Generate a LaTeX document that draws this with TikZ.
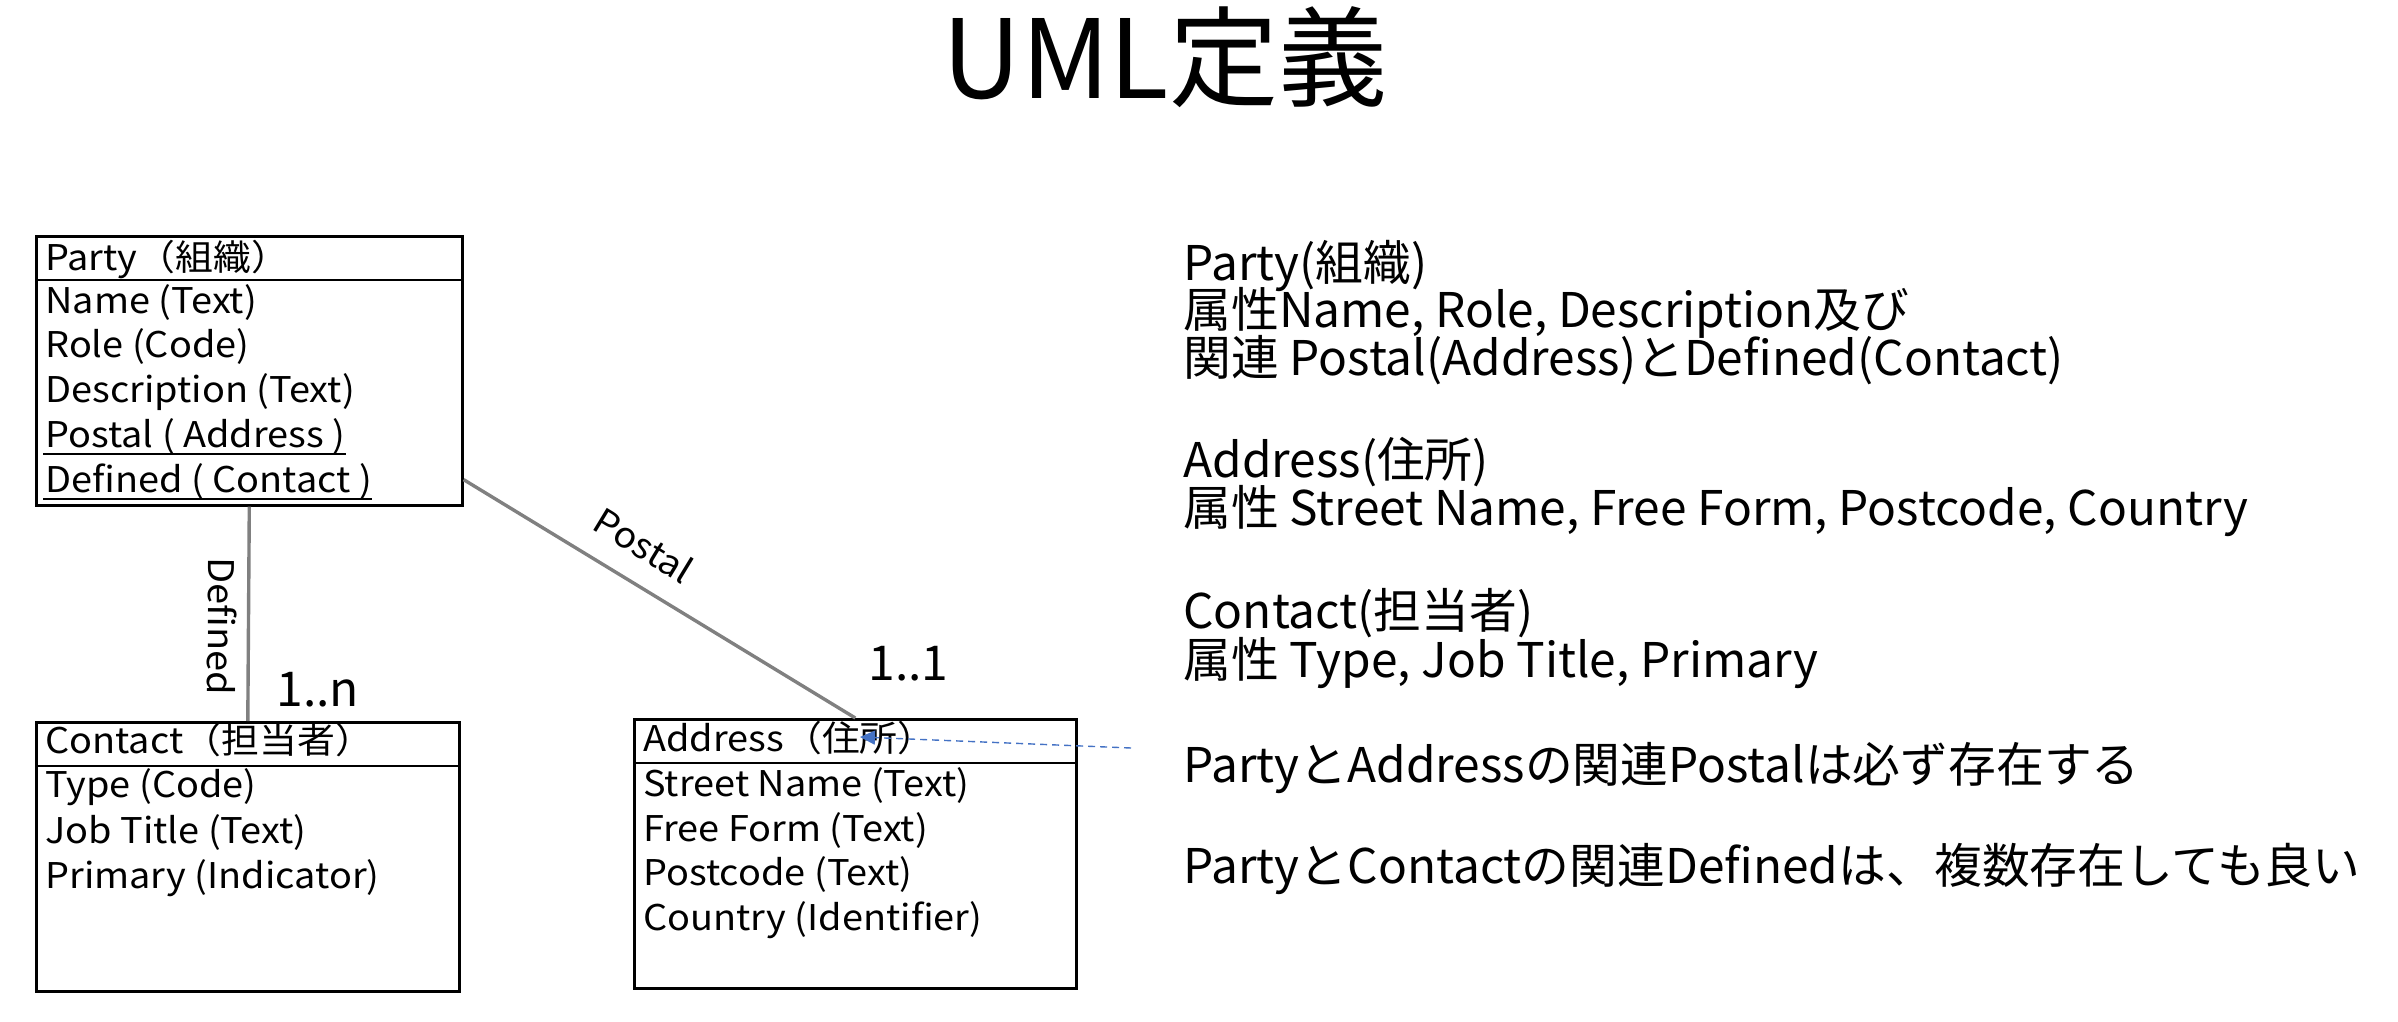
\documentclass[tikz,border=0pt]{standalone}
\usepackage{fontspec}
\setmainfont{Noto Sans CJK JP}
\newfontfamily\boxfam[FakeStretch=1.07]{Noto Sans CJK JP}
\usetikzlibrary{arrows.meta}
\newcommand{\boxfont}{\boxfam\fontsize{17.7pt}{22pt}\selectfont}
\newcommand{\notefont}{\fontsize{23.9pt}{24pt}\selectfont}
\newcommand{\multfont}{\fontsize{24pt}{26pt}\selectfont}
\newcommand{\titlefont}{\fontsize{54.6pt}{60pt}\selectfont}
\definecolor{conngray}{HTML}{808080}
\definecolor{noteblue}{HTML}{4472C4}
\tikzset{
  umlbox/.style={draw=black, line width=1.3pt, rectangle, inner sep=0pt, anchor=north west},
  sepline/.style={draw=black, line width=1.3pt},
  rowtext/.style={anchor=base west, inner sep=0pt, font=\boxfont},
  ulinestyle/.style={draw=black, line width=1.1pt},
  conn/.style={draw=conngray, line width=1.7pt},
  connlabel/.style={inner sep=0pt, font=\boxfont, sloped, allow upside down},
  notetext/.style={anchor=base west, inner sep=0pt, font=\notefont},
  mult/.style={anchor=base west, inner sep=0pt, font=\multfont},
  notelink/.style={draw=noteblue, line width=0.7pt, dash pattern=on 3.5pt off 2.5pt, -{Triangle[length=7.5pt,width=7pt]}},
}
\begin{document}
\begin{tikzpicture}[x=0.5pt,y=-0.5pt]
\useasboundingbox (0,0) rectangle (2398,1022);

% title
\node[anchor=base, inner sep=0pt, font=\titlefont] (title) at (1165,98) {UML定義};

% boxes
\node[umlbox, minimum width=213pt, minimum height=134.5pt] (party) at (35,235) {};
\node[umlbox, minimum width=211.5pt, minimum height=134.5pt] (contact) at (35,721) {};
\node[umlbox, minimum width=221pt, minimum height=134.5pt] (address) at (633,718) {};

\draw[sepline] ([yshift=-22.5pt]party.north west) -- ([yshift=-22.5pt]party.north east);
\draw[sepline] ([yshift=-22.5pt]contact.north west) -- ([yshift=-22.5pt]contact.north east);
\draw[sepline] ([yshift=-22.5pt]address.north west) -- ([yshift=-22.5pt]address.north east);

% Party rows
\node[rowtext] (pH) at (45,270) {Party（組織）};
\node[rowtext] (p1) at (45,313) {Name (Text)};
\node[rowtext] (p2) at (45,357) {Role (Code)};
\node[rowtext] (p3) at (45,402) {Description (Text)};
\node[rowtext] (p4) at (45,447) {Postal ( Address )};
\node[rowtext] (p5) at (45,492) {Defined ( Contact )};
\draw[ulinestyle] ([xshift=-1pt,yshift=-3.6pt]p4.base west) -- ([yshift=-3.6pt]p4.base east);
\draw[ulinestyle] ([xshift=-1pt,yshift=-3.6pt]p5.base west) -- ([yshift=-3.6pt]p5.base east);

% Contact rows
\node[rowtext] (cH) at (45,753) {Contact（担当者）};
\node[rowtext] (c1) at (45,797) {Type (Code)};
\node[rowtext] (c2) at (45,843) {Job Title (Text)};
\node[rowtext] (c3) at (45,888) {Primary (Indicator)};

% Address rows
\node[rowtext] (aH) at (643,751) {Address（住所）};
\node[rowtext] (a1) at (643,796) {Street Name (Text)};
\node[rowtext] (a2) at (643,841) {Free Form (Text)};
\node[rowtext] (a3) at (643,885) {Postcode (Text)};
\node[rowtext] (a4) at (643,930) {Country (Identifier)};

% connectors
\draw[conn] (party.south) -- node[connlabel, pos=0.56, below=5pt] {Defined} (contact.north);
\draw[conn] ([yshift=13.5pt]party.south east) -- node[connlabel, pos=0.41, above=11pt] {Postal} (address.north);

\node[mult] (mn) at (276,706) {1..n};
\node[mult] (m1) at (868,680) {1..1};

% notes
\node[notetext] (n1) at (1183,280) {Party(組織)};
\node[notetext] (n2) at (1183,327) {属性Name, Role, Description及び};
\node[notetext] (n3) at (1183,375) {関連 Postal(Address)とDefined(Contact)};
\node[notetext] (n4) at (1183,477) {Address(住所)};
\node[notetext] (n5) at (1183,525) {属性 Street Name, Free Form, Postcode, Country};
\node[notetext] (n6) at (1183,628) {Contact(担当者)};
\node[notetext] (n7) at (1183,677) {属性 Type, Job Title, Primary};
\node[notetext] (n8) at (1183,782) {PartyとAddressの関連Postalは必ず存在する};
\node[notetext] (n9) at (1183,883) {PartyとContactの関連Definedは、複数存在しても良い};

% note link
\coordinate (linkend) at (1131,748);
\coordinate (linktip) at (860,737);
\draw[notelink] (linkend) -- (linktip);
\end{tikzpicture}
\end{document}
